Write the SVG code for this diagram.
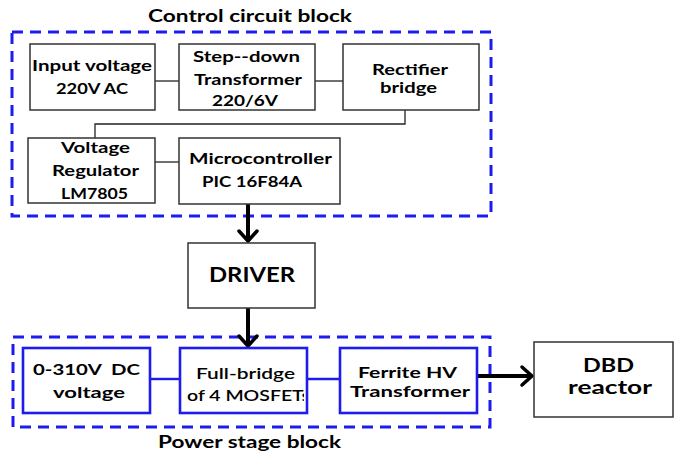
<svg xmlns="http://www.w3.org/2000/svg" width="674" height="456" viewBox="0 0 674 456">
<style>
text{font-family:Lato,"Liberation Sans",sans-serif;font-weight:bold;fill:#000;text-anchor:middle}
.t{font-size:15.5px}
.big{font-size:21px}
.dbd{font-size:18.5px}
.title{font-size:16.5px}
.med{font-weight:600}
.box{fill:#fff;stroke:#333;stroke-width:1.5}
.bbox{fill:#fff;stroke:#1c1cf0;stroke-width:2.6}
.dash{fill:none;stroke:#1c1cf0;stroke-width:3;stroke-dasharray:11 7}
.thin{fill:none;stroke:#222;stroke-width:1.3}
.blue{fill:none;stroke:#1c1cf0;stroke-width:2.4}
.thick{fill:none;stroke:#000;stroke-width:4}
.head{fill:none;stroke:#000;stroke-width:3.5;stroke-linecap:round;stroke-linejoin:round}
</style>
<defs>
<clipPath id="fbclip"><rect x="181" y="349" width="123" height="63"/></clipPath>
</defs>
<rect width="674" height="456" fill="#fff"/>
<g id="control-block">
<rect class="dash" x="12" y="32" width="479" height="184"/>
<text class="title" x="250" y="22" textLength="204" lengthAdjust="spacingAndGlyphs">Control circuit block</text>
</g>
<g id="power-block">
<rect class="dash" x="13" y="337" width="477" height="90"/>
<text class="title" x="249.5" y="448" textLength="183" lengthAdjust="spacingAndGlyphs">Power stage block</text>
</g>
<g id="connectors">
<line class="thin" x1="155" y1="81" x2="179" y2="81"/>
<line class="thin" x1="315" y1="81" x2="343" y2="81"/>
<polyline class="thin" points="405,110 405,124 95,124 95,138"/>
<line class="thin" x1="155" y1="162" x2="179" y2="162"/>
<line class="thick" x1="248" y1="204" x2="248" y2="241"/>
<polyline class="head" points="239,231 248,241 257,231"/>
<line class="thick" x1="248" y1="308" x2="248" y2="346"/>
<polyline class="head" points="239,336 248,346 257,336"/>
<line class="blue" x1="150" y1="379" x2="180" y2="379"/>
<line class="blue" x1="307" y1="379" x2="340" y2="379"/>
<line class="thick" x1="477" y1="376" x2="532" y2="376"/>
<polyline class="head" points="522,367 532,376 522,385"/>
</g>
<g id="input-voltage">
<rect class="box" x="30" y="44" width="125" height="66"/>
<text class="t" x="92" y="71" textLength="120" lengthAdjust="spacingAndGlyphs">Input voltage</text>
<text class="t" x="92" y="94" textLength="72" lengthAdjust="spacingAndGlyphs">220V AC</text>
</g>
<g id="step-down">
<rect class="box" x="179" y="44" width="136" height="66"/>
<text class="t" x="246.5" y="62" textLength="107" lengthAdjust="spacingAndGlyphs">Step--down</text>
<text class="t" x="248" y="85" textLength="108" lengthAdjust="spacingAndGlyphs">Transformer</text>
<text class="t" x="245" y="106" textLength="66" lengthAdjust="spacingAndGlyphs">220/6V</text>
</g>
<g id="rectifier">
<rect class="box" x="343" y="44" width="136" height="66"/>
<text class="t" x="410" y="75" textLength="76" lengthAdjust="spacingAndGlyphs">Rectifier</text>
<text class="t" x="408.5" y="93" textLength="57" lengthAdjust="spacingAndGlyphs">bridge</text>
</g>
<g id="regulator">
<rect class="box" x="28" y="138" width="127" height="65"/>
<text class="t" x="95.5" y="153" textLength="69" lengthAdjust="spacingAndGlyphs">Voltage</text>
<text class="t" x="95.5" y="176" textLength="87" lengthAdjust="spacingAndGlyphs">Regulator</text>
<text class="t" x="94.5" y="199" textLength="67" lengthAdjust="spacingAndGlyphs">LM7805</text>
</g>
<g id="microcontroller">
<rect class="box" x="179" y="138" width="161" height="66"/>
<text class="t" x="260.5" y="164" textLength="143" lengthAdjust="spacingAndGlyphs">Microcontroller</text>
<text class="t" x="252" y="187" textLength="100" lengthAdjust="spacingAndGlyphs">PIC 16F84A</text>
</g>
<g id="driver">
<rect class="box" x="188" y="243" width="127" height="65"/>
<text class="big" x="252" y="282" textLength="86" lengthAdjust="spacingAndGlyphs">DRIVER</text>
</g>
<g id="dc-voltage">
<rect class="bbox" x="23" y="348" width="127" height="65"/>
<text class="t" x="86.5" y="375" textLength="107" lengthAdjust="spacingAndGlyphs" xml:space="preserve">0-310V  DC</text>
<text class="t" x="89" y="398" textLength="72" lengthAdjust="spacingAndGlyphs">voltage</text>
</g>
<g id="full-bridge">
<rect class="bbox" x="180" y="348" width="127" height="65"/>
<text class="t med" x="245.5" y="379" textLength="99" lengthAdjust="spacingAndGlyphs">Full-bridge</text>
<text class="t med" x="187" y="401" style="text-anchor:start" textLength="123" lengthAdjust="spacingAndGlyphs" clip-path="url(#fbclip)">of 4 MOSFETs</text>
</g>
<g id="ferrite">
<rect class="bbox" x="340" y="348" width="137" height="65"/>
<text class="t" x="407.5" y="378" textLength="99" lengthAdjust="spacingAndGlyphs">Ferrite HV</text>
<text class="t" x="410" y="397" textLength="120" lengthAdjust="spacingAndGlyphs">Transformer</text>
</g>
<g id="dbd">
<rect class="box" x="534" y="342" width="139" height="75"/>
<text class="dbd" x="608.5" y="372" textLength="51" lengthAdjust="spacingAndGlyphs">DBD</text>
<text class="dbd" x="610" y="394" textLength="84" lengthAdjust="spacingAndGlyphs">reactor</text>
</g>
</svg>
